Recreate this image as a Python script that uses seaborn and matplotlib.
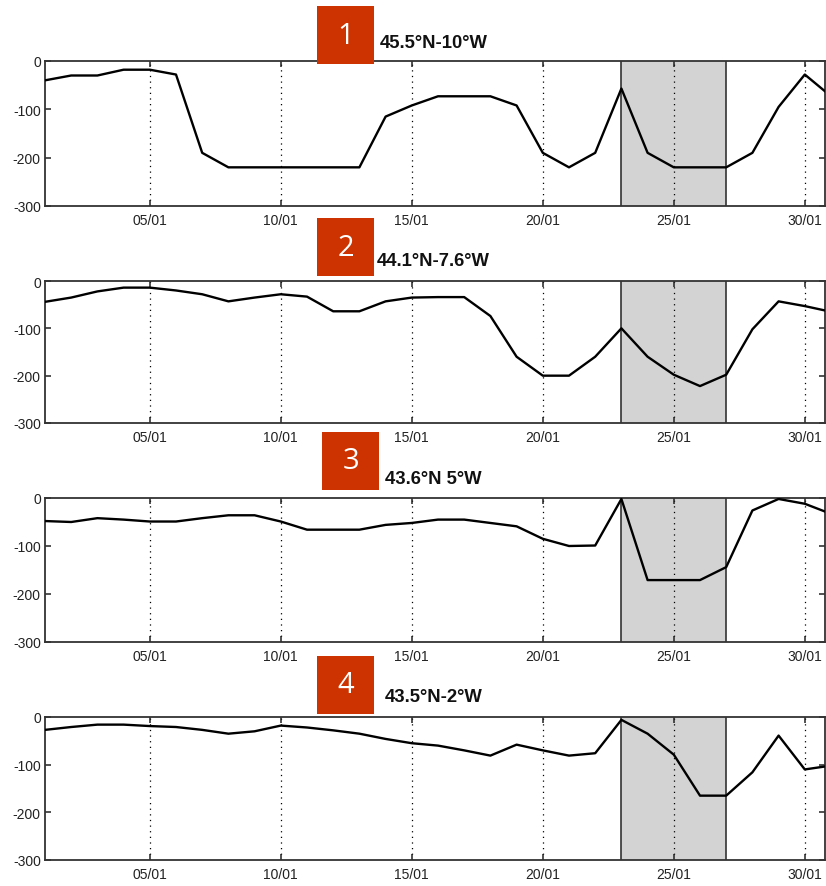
import matplotlib
matplotlib.use("Agg")
import matplotlib.pyplot as plt
import pandas as pd
import seaborn as sns
from matplotlib.patches import Rectangle

days = list(range(1, 32))
tick_days = [5, 10, 15, 20, 25, 30]
tick_labels = ["05/01", "10/01", "15/01", "20/01", "25/01", "30/01"]
yticks = [0, -100, -200, -300]
station_titles = ["45.5°N-10°W", "44.1°N-7.6°W", "43.6°N 5°W", "43.5°N-2°W"]
badge_labels = ["1", "2", "3", "4"]
shade_start, shade_end = 23, 27

depth_1 = [-40, -30, -30, -18, -18, -28, -190, -220, -220, -220, -220, -220, -220,
           -115, -92, -73, -73, -73, -92, -190, -220, -190, -57, -190, -220, -220,
           -220, -190, -95, -28, -73]
depth_2 = [-44, -35, -22, -14, -14, -20, -28, -43, -35, -28, -33, -64, -64, -43,
           -35, -34, -34, -74, -160, -200, -200, -160, -100, -160, -198, -222, -198,
           -102, -43, -53, -65]
depth_3 = [-48, -50, -42, -45, -49, -49, -42, -36, -36, -49, -66, -66, -66, -56,
           -52, -45, -45, -52, -59, -85, -100, -99, -2, -171, -171, -171, -144, -26,
           -2, -12, -33]
depth_4 = [-27, -21, -16, -16, -19, -21, -27, -35, -30, -18, -22, -28, -35, -46,
           -55, -60, -70, -81, -58, -70, -81, -76, -6, -35, -79, -165, -165, -116,
           -39, -110, -102]

series = [depth_1, depth_2, depth_3, depth_4]
df = pd.concat([pd.DataFrame({"day": days, "depth": s, "station": t})
                for s, t in zip(series, station_titles)], ignore_index=True)

sns.set_style("ticks")
plt.rcParams['font.family'] = ['Liberation Sans', 'DejaVu Sans']

W, H = 826, 887
fig = plt.figure(figsize=(W / 100, H / 100), dpi=100)

# pixel geometry (top, bottom) for each panel
panels_px = [(62, 207), (282, 424), (499, 643), (718, 861)]
badges_px = [(317, 7, 374, 65), (317, 219, 374, 277), (322, 433, 379, 491), (317, 657, 374, 715)]
titles_px = [(380, 44), (377, 262), (385, 480), (385, 698)]
left_px, right_px = 45, 825

for i, (st, (top, bot)) in enumerate(zip(station_titles, panels_px)):
    ax = fig.add_axes([left_px / W, (H - bot) / H, (right_px - left_px) / W, (bot - top) / H])
    ax.axvspan(shade_start, shade_end, color="#d3d3d3", zorder=0, lw=0)
    for xv in (shade_start, shade_end):
        ax.axvline(xv, color="#333333", lw=1.2, zorder=1)
    sub = df[df["station"] == st]
    sns.lineplot(data=sub, x="day", y="depth", ax=ax, color="black", lw=1.7, zorder=3)
    ax.set_xlim(1, 1 + (right_px - left_px) / 26.2)
    ax.set_ylim(-300, 0)
    ax.set_xticks(tick_days)
    ax.set_xticklabels(tick_labels)
    ax.set_yticks(yticks)
    ax.set_yticklabels([str(v) for v in yticks])
    ax.set_xlabel("")
    ax.set_ylabel("")
    ax.grid(axis="x", color="black", ls=(0, (1, 3.5)), lw=0.9)
    ax.tick_params(direction="in", top=True, right=True, length=4, width=1.1,
                   labelsize=10, colors="#222222", pad=5)
    ax.tick_params(axis="y", pad=3)
    for sp in ax.spines.values():
        sp.set_visible(True)
        sp.set_color("#333333")
        sp.set_linewidth(1.3)

    bx0, by0, bx1, by1 = badges_px[i]
    rect = Rectangle((bx0 / W, (H - by1) / H), (bx1 - bx0) / W, (by1 - by0) / H,
                     transform=fig.transFigure, facecolor="#cc3300", edgecolor="none",
                     zorder=10)
    fig.add_artist(rect)
    fig.text((bx0 + bx1) / 2 / W, (H - (by0 + by1) / 2) / H, badge_labels[i],
             color="white", fontsize=21, ha="center", va="center",
             family=["Open Sans", "DejaVu Sans"], zorder=11)
    tx, ty = titles_px[i]
    fig.text(tx / W, (H - ty) / H, st, fontsize=13.3, fontweight="bold",
             ha="left", va="center", color="#111111")

fig.savefig("out.png", dpi=100)
